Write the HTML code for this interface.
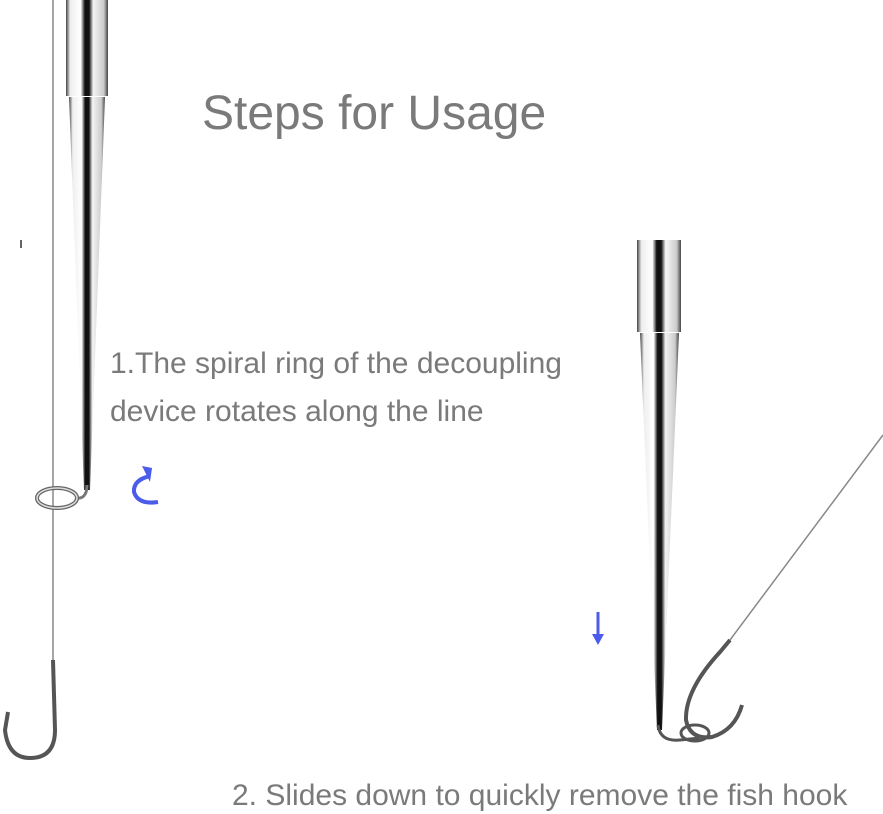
<!DOCTYPE html>
<html><head><style>
body{margin:0;background:#fff;}
.t{position:absolute;font-family:"Liberation Sans",sans-serif;color:#7a7a7a;white-space:nowrap;}
</style></head><body>
<div style="position:relative;width:883px;height:814px;overflow:hidden;background:#fff">
<svg width="883" height="814" style="position:absolute;left:0;top:0">
<defs>
<linearGradient id="m" x1="0" x2="1" y1="0" y2="0">
<stop offset="0" stop-color="#444"/><stop offset="0.1" stop-color="#eee"/><stop offset="0.35" stop-color="#fff"/><stop offset="0.45" stop-color="#111"/><stop offset="0.55" stop-color="#111"/><stop offset="0.65" stop-color="#f4f4f4"/><stop offset="0.9" stop-color="#ccc"/><stop offset="1" stop-color="#444"/>
</linearGradient>
</defs>
<line x1="53" y1="0" x2="53" y2="665" stroke="#888" stroke-width="1.5"/>
<line x1="21" y1="240" x2="21" y2="248" stroke="#666" stroke-width="2"/>
<rect x="66" y="0" width="42" height="96" fill="url(#m)"/>
<polygon points="69,97 105,97 90,490 84,490" fill="url(#m)"/>
<path d="M87 485 Q87 500 75 498" stroke="#777" stroke-width="3" fill="none"/>
<ellipse cx="57" cy="498" rx="20" ry="10" stroke="#666" stroke-width="4" fill="none"/>
<ellipse cx="57" cy="498" rx="20" ry="10" stroke="#ddd" stroke-width="1.5" fill="none"/>
<path d="M53 660 L55 730 Q55 758 30 758 Q8 758 5 730 L8 712" stroke="#555" stroke-width="4" fill="none"/>
<rect x="637" y="240" width="44" height="92" fill="url(#m)"/>
<polygon points="640,333 679,333 662,730 657,730" fill="url(#m)"/>
<path d="M658 725 Q660 742 680 740 L700 738" stroke="#555" stroke-width="3" fill="none"/>
<ellipse cx="695" cy="733" rx="14" ry="8" stroke="#555" stroke-width="3" fill="none"/>
<line x1="883" y1="435" x2="730" y2="640" stroke="#888" stroke-width="1.5"/>
<path d="M730 640 L720 652 Q685 690 686 720 Q690 740 712 737 Q735 730 742 705" stroke="#555" stroke-width="4" fill="none"/>
<path d="M150 476 Q133 480 134 492 Q138 505 158 502" stroke="#4b5bea" stroke-width="4" fill="none"/>
<polygon points="142,466 152,468 150,482" fill="#4b5bea"/>
<line x1="598" y1="612" x2="598" y2="640" stroke="#4b5bea" stroke-width="3"/>
<polygon points="592,634 604,634 598,645" fill="#4b5bea"/>
</svg>
<div class="t" style="left:202px;top:86px;font-size:48px;">Steps for Usage</div>
<div class="t" style="left:110px;top:347px;font-size:30px;">1.The spiral ring of the decoupling</div>
<div class="t" style="left:110px;top:395px;font-size:30px;">device rotates along the line</div>
<div class="t" style="left:232px;top:779px;font-size:30px;">2. Slides down to quickly remove the fish hook</div>
</div>
</body></html>
